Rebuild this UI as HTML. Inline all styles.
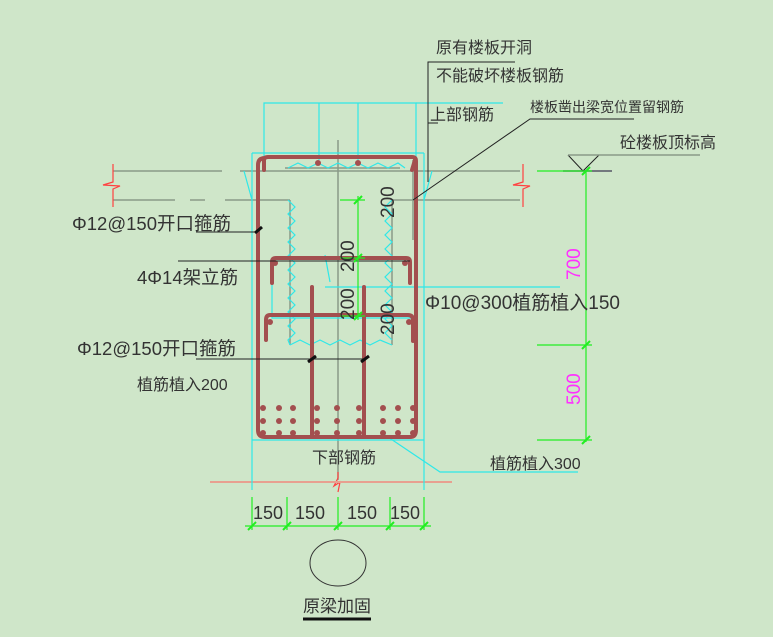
<!DOCTYPE html>
<html><head><meta charset="utf-8"><style>
html,body{margin:0;padding:0;background:#cfe6c9;}
svg{display:block}
text{font-family:"Liberation Sans","Noto Sans CJK SC",sans-serif;fill:#333;}
</style></head><body>
<svg width="773" height="637" viewBox="0 0 773 637" xmlns="http://www.w3.org/2000/svg">
<rect width="773" height="637" fill="#cfe6c9"/>
<g stroke="#8a9a88" stroke-width="1.5" fill="none">
<line x1="113" y1="171" x2="222" y2="171"/><line x1="240" y1="171" x2="520" y2="171"/>
<line x1="113" y1="200" x2="175" y2="200"/><line x1="190" y1="200" x2="205" y2="200"/><line x1="225" y1="200" x2="290" y2="200"/>
<line x1="392" y1="200" x2="520" y2="200"/>
<line x1="338" y1="140" x2="338" y2="480"/>
<line x1="285" y1="168" x2="400" y2="168"/>
<line x1="290" y1="200" x2="290" y2="345"/><line x1="392" y1="200" x2="392" y2="345"/>
<line x1="413" y1="160" x2="413" y2="240"/>
</g>
<g stroke="#ff4040" stroke-width="1.2" fill="none">
<polyline points="113,164 113,182 103,185 120,186 113,189 113,207"/>
<polyline points="523,164 523,182 513,185 530,186 523,189 523,207"/>
<polyline points="338,472 338,478 334,486 340,482 338,492"/>
</g>
<line x1="210" y1="482" x2="452" y2="482" stroke="#e8a090" stroke-width="2"/>
<g stroke="#2ee8e8" stroke-width="1.2" fill="none">
<polyline points="264,160 264,103 416,103 416,160"/>
<line x1="319" y1="103" x2="319" y2="160"/><line x1="358" y1="103" x2="358" y2="160"/>
<line x1="416" y1="103" x2="503" y2="103"/>
<line x1="252" y1="153" x2="424" y2="153"/>
<line x1="252" y1="153" x2="252" y2="490"/><line x1="424" y1="153" x2="424" y2="490"/>
<line x1="244" y1="171" x2="252" y2="200"/><line x1="432" y1="171" x2="424" y2="200"/>
<line x1="252" y1="440" x2="424" y2="440"/>
<polyline points="288,200 295,207 288,214 295,221 288,228 295,235 288,242 295,249 288,256 295,263 288,270 295,277 288,284 295,291 288,298 295,305 288,312 295,319 288,326 295,333 288,340 290,345"/>
<polyline points="392,200 385,207 392,214 385,221 392,228 385,235 392,242 385,249 392,256 385,263 392,270 385,277 392,284 385,291 392,298 385,305 392,312 385,319 392,326 385,333 392,340"/>
<polyline points="290,345 300,340 310,345 320,340 330,345 340,340 350,345 360,340 370,345 380,340 392,345"/>
<polyline points="288,168 298,163 308,168 318,163 328,168 338,163 348,168 358,163 368,168 378,163 388,168 398,163 405,168"/>
<polyline points="272,260 272,318 413,318"/>
<line x1="325" y1="287" x2="560" y2="287"/>
<line x1="325" y1="255" x2="330" y2="282"/>
<polyline points="382,433 440,472 578,472"/>
</g>
<g stroke="#a34f4f" stroke-width="4" fill="none" stroke-linecap="round" stroke-linejoin="round">
<path d="M264,170 L264,160 Q264,157 268,157 L412,157 Q416,157 416,161 L416,430 Q416,437 410,437 L265,437 Q258,437 258,430 L258,165 Q258,158 265,158"/>
<path d="M272,283 L272,262 Q272,258 276,258 L406,258 Q410,258 410,262 L410,283"/>
<path d="M266,340 L266,320 Q266,315 270,315 L408,315 Q413,315 413,320 L413,341"/>
<line x1="312" y1="287" x2="312" y2="435"/><line x1="364" y1="287" x2="364" y2="435"/>
<line x1="415" y1="160" x2="412" y2="170"/>
</g>
<g fill="#a34f4f">
<circle cx="318" cy="163" r="3"/><circle cx="358" cy="163" r="3"/>
<circle cx="275" cy="263" r="3"/><circle cx="405" cy="263" r="3"/>
<circle cx="270" cy="322" r="3"/><circle cx="409" cy="322" r="3"/>
<g id="r">
<circle cx="263" cy="408" r="3"/><circle cx="279" cy="408" r="3"/><circle cx="293" cy="408" r="3"/>
<circle cx="317" cy="408" r="3"/><circle cx="337" cy="408" r="3"/><circle cx="359" cy="408" r="3"/>
<circle cx="383" cy="408" r="3"/><circle cx="398" cy="408" r="3"/><circle cx="413" cy="408" r="3"/>
</g>
<use href="#r" y="13"/><use href="#r" y="25"/>
</g>
<g stroke="#222" stroke-width="1" fill="none">
<polyline points="515,62 428,62 428,182"/>
<line x1="428" y1="123" x2="438" y2="123"/>
<polyline points="634,119 530,119 413,200"/>
<line x1="196" y1="232" x2="258" y2="232"/>
<line x1="178" y1="261" x2="410" y2="261"/>
<line x1="196" y1="359" x2="365" y2="359"/>
<polyline points="568,155 583,171 599,155"/>
</g>
<line x1="568" y1="155" x2="700" y2="155" stroke="#8a9a88" stroke-width="1.5"/>
<line x1="563" y1="171" x2="612" y2="171" stroke="#556" stroke-width="1.5"/>
<g stroke="#111" stroke-width="3"><line x1="255" y1="233" x2="262" y2="227"/><line x1="308" y1="362" x2="316" y2="356"/><line x1="361" y1="362" x2="369" y2="356"/></g>
<g stroke="#22ee22" stroke-width="1.2" fill="none">
<line x1="358" y1="196" x2="358" y2="320"/>
<line x1="340" y1="200" x2="365" y2="200"/><line x1="340" y1="258" x2="365" y2="258"/><line x1="340" y1="316" x2="365" y2="316"/>
<line x1="586" y1="171" x2="586" y2="442"/>
<line x1="537" y1="171" x2="592" y2="171"/><line x1="537" y1="345" x2="592" y2="345"/><line x1="537" y1="440" x2="592" y2="440"/>
<line x1="245" y1="526" x2="431" y2="526"/>
<line x1="252" y1="497" x2="252" y2="530"/><line x1="287" y1="497" x2="287" y2="530"/><line x1="338" y1="497" x2="338" y2="530"/><line x1="390" y1="497" x2="390" y2="530"/><line x1="424" y1="497" x2="424" y2="530"/>
<g stroke-width="2"><line x1="354" y1="204" x2="362" y2="196"/><line x1="354" y1="262" x2="362" y2="254"/><line x1="354" y1="320" x2="362" y2="312"/>
<line x1="582" y1="175" x2="590" y2="167"/><line x1="582" y1="349" x2="590" y2="341"/><line x1="582" y1="444" x2="590" y2="436"/>
<line x1="248" y1="530" x2="256" y2="522"/><line x1="283" y1="530" x2="291" y2="522"/><line x1="334" y1="530" x2="342" y2="522"/><line x1="386" y1="530" x2="394" y2="522"/><line x1="420" y1="530" x2="428" y2="522"/></g>
</g>
<ellipse cx="338" cy="563" rx="28" ry="23" fill="none" stroke="#333" stroke-width="1"/>
<line x1="303" y1="619" x2="371" y2="619" stroke="#111" stroke-width="3"/>
<g font-size="16">
<text x="436" y="53">原有楼板开洞</text>
<text x="436" y="81">不能破坏楼板钢筋</text>
<text x="430" y="120">上部钢筋</text>
<text x="530" y="112" font-size="14">楼板凿出梁宽位置留钢筋</text>
<text x="620" y="148">砼楼板顶标高</text>
<text x="72" y="230" font-size="18.5">Φ12@150开口箍筋</text>
<text x="137" y="284" font-size="18.5">4Φ14架立筋</text>
<text x="77" y="355" font-size="18.5">Φ12@150开口箍筋</text>
<text x="137" y="390" font-size="16">植筋植入200</text>
<text x="425" y="309" font-size="19">Φ10@300植筋植入150</text>
<text x="312" y="463">下部钢筋</text>
<text x="490" y="469" font-size="16">植筋植入300</text>
<g font-size="18"><text x="253" y="519">150</text><text x="295" y="519">150</text><text x="347" y="519">150</text><text x="390" y="519">150</text></g>
<text x="303" y="612" font-size="17">原梁加固</text>
<g font-size="19">
<text transform="translate(354,272) rotate(-90)">200</text>
<text transform="translate(354,320) rotate(-90)">200</text>
<text transform="translate(394,218) rotate(-90)">200</text>
<text transform="translate(394,335) rotate(-90)">200</text>
<text transform="translate(580,280) rotate(-90)" style="fill:#ff30ff">700</text>
<text transform="translate(580,405) rotate(-90)" style="fill:#ff30ff">500</text>
</g>
</g>
</svg>
</body></html>
